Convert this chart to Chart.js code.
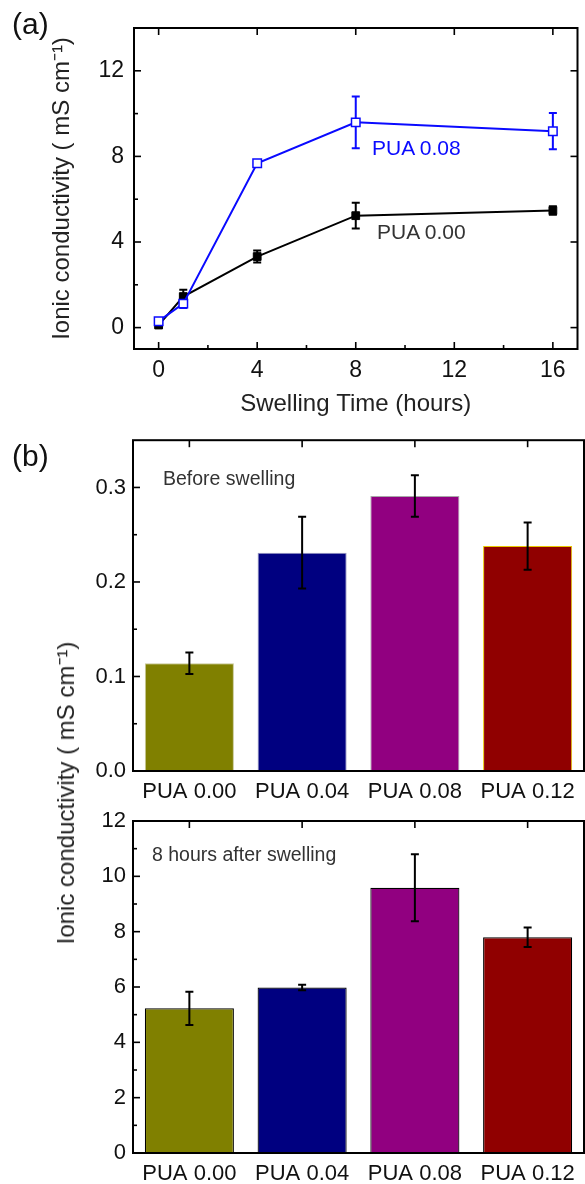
<!DOCTYPE html>
<html>
<head>
<meta charset="utf-8">
<script src="https://cdn.jsdelivr.net/npm/chart.js@4.4.1/dist/chart.umd.min.js"></script>
<style>
  body { margin: 0; background: #fff; width: 585px; height: 1184px; position: relative; overflow: hidden;
         font-family: "Liberation Sans", Arial, sans-serif; }
  canvas { position: absolute; left: 0; }
  .txt { position: absolute; white-space: nowrap; line-height: 1; }
</style>
</head>
<body>
<canvas id="chartA" width="585" height="420" style="top:0"></canvas>
<canvas id="chartB1" width="585" height="385" style="top:420px"></canvas>
<canvas id="chartB2" width="585" height="384" style="top:800px"></canvas>

<div class="txt" style="left:12px;top:9px;font-size:30px;color:#111">(a)</div>
<div class="txt" style="left:12px;top:441px;font-size:30px;color:#111">(b)</div>
<div class="txt" style="left:372px;top:137px;font-size:21px;color:#0a0aff">PUA 0.08</div>
<div class="txt" style="left:377px;top:221px;font-size:21px;color:#333">PUA 0.00</div>
<div class="txt" style="left:163px;top:469px;font-size:19.5px;color:#333">Before swelling</div>
<div class="txt" style="left:152px;top:845px;font-size:19.5px;color:#333">8 hours after swelling</div>
<div class="txt" style="left:66px;top:793px;font-size:24px;color:#222;transform:translate(-50%,-50%) rotate(-90deg)">Ionic conductivity ( mS cm⁻¹)</div>

<script>
// (a) conductivity vs swelling time
const swellHours = [0, 1, 4, 8, 16];
const pua000 = [0.12, 1.45, 3.32, 5.23, 5.47];
const pua000Err = [0.08, 0.32, 0.28, 0.60, 0.20];
const pua008 = [0.30, 1.12, 7.68, 9.59, 9.18];
const pua008Err = [0.15, 0.20, 0.15, 1.21, 0.85];
const timeTicks = [0, 4, 8, 12, 16];
const timeMinor = [2, 6, 10, 14];
const condTicksA = [0, 4, 8, 12];
const condMinorA = [2, 6, 10];

// (b) bars
const puaLabels = ['PUA 0.00', 'PUA 0.04', 'PUA 0.08', 'PUA 0.12'];
const beforeSwelling = [0.114, 0.231, 0.291, 0.238];
const beforeErr = [0.0115, 0.038, 0.022, 0.025];
const after8h = [5.23, 5.98, 9.59, 7.80];
const after8hErr = [0.60, 0.10, 1.21, 0.35];
const barColors = ['#808000', '#000080', '#910080', '#900000'];
const barEdgesBefore = ['#c8c898', '#9898c0', '#a8a8a8', '#e8c800'];
const ticksBefore = [0, 0.1, 0.2, 0.3];
const minorBefore = [0.05, 0.15, 0.25];
const ticksAfter = [0, 2, 4, 6, 8, 10, 12];
const minorAfter = [1, 3, 5, 7, 9, 11];

Chart.defaults.font.family = '"Liberation Sans", Arial, sans-serif';
Chart.defaults.color = '#111';

// box around the plot with inward ticks
const framePlugin = {
  id: 'frame',
  afterDatasetsDraw(chart, args, opts) {
    const {ctx, chartArea: a, scales: {x, y}} = chart;
    ctx.save();
    ctx.strokeStyle = '#000';
    ctx.lineWidth = 1.6;
    const line = (x1, y1, x2, y2) => { ctx.beginPath(); ctx.moveTo(x1, y1); ctx.lineTo(x2, y2); ctx.stroke(); };
    (opts.yMajor || []).forEach(v => {
      const p = y.getPixelForValue(v);
      line(a.left, p, a.left + 7, p);
      if (opts.yRight) line(a.right, p, a.right - 7, p);
    });
    (opts.yMinor || []).forEach(v => {
      const p = y.getPixelForValue(v);
      line(a.left, p, a.left + 4, p);
    });
    (opts.xMajor || []).forEach(v => {
      const p = x.getPixelForValue(v);
      line(p, a.top, p, a.top + 7);
      if (opts.xBottom) line(p, a.bottom, p, a.bottom - 7);
    });
    (opts.xMinor || []).forEach(v => {
      const p = x.getPixelForValue(v);
      line(p, a.bottom, p, a.bottom - 4);
    });
    ctx.lineWidth = 2;
    ctx.strokeRect(a.left, a.top, a.right - a.left, a.bottom - a.top);
    ctx.restore();
  }
};

function drawErrorBars(chart) {
  const ctx = chart.ctx, y = chart.scales.y;
  chart.data.datasets.forEach((ds, i) => {
    if (!ds.errors) return;
    const meta = chart.getDatasetMeta(i);
    ctx.save();
    ctx.strokeStyle = ds.errorColor || '#000';
    ctx.lineWidth = 2;
    meta.data.forEach((el, j) => {
      const d = ds.data[j];
      const v = typeof d === 'object' ? d.y : d;
      const e = ds.errors[j];
      const t = y.getPixelForValue(v + e), b = y.getPixelForValue(v - e);
      ctx.beginPath();
      ctx.moveTo(el.x, t); ctx.lineTo(el.x, b);
      ctx.moveTo(el.x - 4, t); ctx.lineTo(el.x + 4, t);
      ctx.moveTo(el.x - 4, b); ctx.lineTo(el.x + 4, b);
      ctx.stroke();
    });
    ctx.restore();
  });
}

const errorBarPlugin = {
  id: 'errorBars',
  beforeDatasetsDraw(chart, args, opts) { if (opts.behind) drawErrorBars(chart); },
  afterDatasetsDraw(chart, args, opts) { if (!opts.behind) drawErrorBars(chart); }
};

const tickFontA = {size: 23};
const titleFont = {size: 24};

new Chart(document.getElementById('chartA'), {
  type: 'line',
  data: {
    datasets: [{
      data: swellHours.map((h, i) => ({x: h, y: pua008[i]})),
      errors: pua008Err,
      errorColor: '#0a0aff',
      borderColor: '#0a0aff',
      borderWidth: 2,
      pointStyle: 'rect',
      pointRadius: 6,
      pointBorderWidth: 1.5,
      pointBackgroundColor: '#fff',
      pointBorderColor: '#0a0aff'
    }, {
      data: swellHours.map((h, i) => ({x: h, y: pua000[i]})),
      errors: pua000Err,
      errorColor: '#000',
      borderColor: '#000',
      borderWidth: 2,
      pointStyle: 'rect',
      pointRadius: 5.5,
      pointBorderWidth: 1,
      pointBackgroundColor: '#000',
      pointBorderColor: '#000'
    }]
  },
  options: {
    responsive: false,
    animation: false,
    devicePixelRatio: 1,
    layout: {padding: {top: 28, right: 1, left: 0, bottom: 0}},
    plugins: {
      legend: {display: false},
      tooltip: {enabled: false},
      errorBars: {behind: true},
      frame: {xMajor: timeTicks, xMinor: timeMinor, xBottom: true, yMajor: condTicksA, yMinor: condMinorA, yRight: true}
    },
    scales: {
      x: {
        type: 'linear', min: -1, max: 17,
        afterBuildTicks: s => { s.ticks = timeTicks.map(v => ({value: v})); },
        grid: {display: false, drawTicks: false},
        border: {display: false},
        ticks: {font: tickFontA, padding: 8},
        title: {display: true, text: 'Swelling Time (hours)', font: titleFont, color: '#222', padding: {top: 0, bottom: 1}},
        afterFit: s => { s.height = 71; }
      },
      y: {
        min: -1, max: 14,
        afterBuildTicks: s => { s.ticks = condTicksA.map(v => ({value: v})); },
        grid: {display: false, drawTicks: false},
        border: {display: false},
        ticks: {font: tickFontA, padding: 10},
        title: {display: true, text: 'Ionic conductivity ( mS cm⁻¹)', font: titleFont, color: '#222', padding: {top: 48, bottom: 0}},
        afterFit: s => { s.width = 134; }
      }
    }
  },
  plugins: [framePlugin, errorBarPlugin]
});

function barChart(id, values, errs, edges, edgeWidth, yMax, majors, minors, digits, padTop) {
  return new Chart(document.getElementById(id), {
    type: 'bar',
    data: {
      labels: puaLabels,
      datasets: [{
        data: values,
        errors: errs,
        backgroundColor: barColors,
        borderColor: edges,
        borderWidth: edgeWidth,
        barPercentage: 0.79,
        categoryPercentage: 1
      }]
    },
    options: {
      responsive: false,
      animation: false,
      devicePixelRatio: 1,
      layout: {padding: {top: padTop, right: 1, left: 0, bottom: 0}},
      plugins: {
        legend: {display: false},
        tooltip: {enabled: false},
        errorBars: {behind: false},
        frame: {xMajor: [0, 1, 2, 3], yMajor: majors, yMinor: minors}
      },
      scales: {
        x: {
          grid: {display: false, drawTicks: false},
          border: {display: false},
          ticks: {font: {size: 22}, padding: 8},
          afterFit: s => { s.height = id === 'chartB1' ? 34 : 31; }
        },
        y: {
          min: 0, max: yMax,
          afterBuildTicks: s => { s.ticks = majors.map(v => ({value: v})); },
          grid: {display: false, drawTicks: false},
          border: {display: false},
          ticks: {font: {size: 22}, padding: 7, callback: v => v.toFixed(digits)},
          afterFit: s => { s.width = 133; }
        }
      }
    },
    plugins: [framePlugin, errorBarPlugin]
  });
}

barChart('chartB1', beforeSwelling, beforeErr, barEdgesBefore, 1, 0.35, ticksBefore, minorBefore, 1, 17);
barChart('chartB2', after8h, after8hErr, '#000', 1.2, 12, ticksAfter, minorAfter, 0, 21);
</script>
</body>
</html>
